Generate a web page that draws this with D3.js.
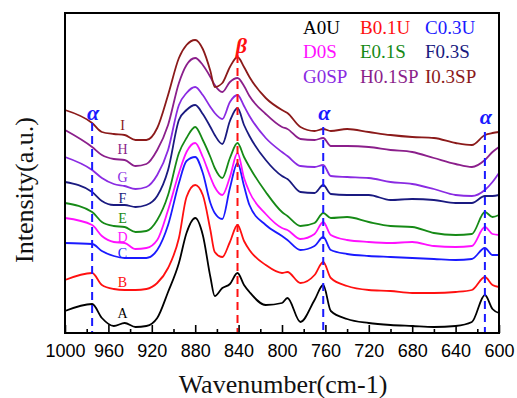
<!DOCTYPE html>
<html>
<head>
<meta charset="utf-8">
<script src="https://cdn.jsdelivr.net/npm/d3@7"></script>
<style>
  body { margin: 0; background: #fff; }
  svg { display: block; }
</style>
</head>
<body>
<div id="chart"></div>
<script>
// Wavenumber grid (cm-1) shared by all spectra
var wavenumbers = [1000, 975, 966, 955, 945, 935, 925, 915, 905, 895, 888, 880, 873, 866, 862, 855, 848, 841, 835, 830,
  815, 800, 795, 783, 770, 762, 755, 740, 720, 700, 680, 660, 640, 625, 613, 606, 600];

// Offset intensities (a.u.)
var seriesA = [22, 29, 15, 7, 10, 6, 7, 15, 41, 70, 100, 115, 98, 56, 37, 45, 49, 60, 48, 41, 28, 30, 35, 11, 33, 48, 22, 14, 10, 8, 7, 6, 7, 11, 38, 24, 20];
var seriesB = [53, 60, 48, 44, 43, 43, 44, 50, 65, 95, 136, 148, 138, 103, 81, 76, 91, 108, 92, 83, 68, 60, 61, 50, 58, 71, 55, 47, 43, 42, 40, 40, 41, 43, 56, 48, 46];
var seriesC = [90, 89, 82, 77, 75, 75, 75, 83, 108, 150, 172, 176, 160, 130, 120, 114, 145, 170, 147, 128, 108, 97, 93, 83, 87, 96, 83, 79, 77, 76, 75, 74, 73, 74, 85, 78, 78];
var seriesD = [115, 108, 97, 91, 90, 84, 85, 93, 123, 160, 181, 190, 176, 156, 146, 138, 156, 180, 155, 141, 119, 105, 103, 94, 99, 111, 98, 93, 91, 90, 91, 87, 86, 87, 106, 99, 98];
var seriesE = [130, 121, 111, 107, 106, 101, 102, 113, 138, 180, 195, 206, 193, 176, 165, 155, 175, 190, 176, 166, 141, 121, 117, 107, 110, 120, 115, 116, 111, 107, 106, 100, 98, 99, 121, 116, 118];
var seriesF = [151, 141, 132, 128, 128, 126, 128, 137, 163, 213, 223, 228, 219, 206, 198, 189, 212, 225, 208, 197, 173, 157, 154, 141, 140, 148, 139, 138, 138, 133, 134, 133, 130, 130, 137, 137, 138];
var seriesG = [176, 163, 155, 149, 147, 144, 146, 158, 183, 228, 240, 246, 238, 226, 220, 214, 231, 238, 227, 217, 195, 181, 177, 167, 166, 168, 157, 156, 155, 151, 149, 144, 138, 137, 143, 151, 160];
var seriesH = [203, 186, 178, 174, 173, 167, 169, 183, 208, 250, 268, 275, 268, 256, 248, 241, 251, 255, 247, 237, 219, 206, 204, 194, 193, 195, 187, 187, 186, 183, 181, 175, 169, 166, 173, 181, 186];
var seriesI = [223, 210, 201, 199, 198, 193, 193, 205, 238, 275, 288, 293, 284, 262, 246, 250, 266, 276, 266, 256, 235, 223, 220, 206, 202, 204, 202, 204, 201, 198, 196, 195, 190, 188, 198, 200, 201];

var letters = ["A", "B", "C", "D", "E", "F", "G", "H", "I"];
var sampleNames = ["A0U", "B0.1U", "C0.3U", "D0S", "E0.1S", "F0.3S", "G0SP", "H0.1SP", "I0.3SP"];
var colors = ["#000000", "#ff1010", "#1a1aff", "#ff10ff", "#168a16", "#1a1a80", "#8a2be2", "#8b1f8b", "#8b1a1a"];
var letterY = [20, 51, 80, 96, 115, 135, 156, 184, 208];
var majorTicks = [1000, 960, 920, 880, 840, 800, 760, 720, 680, 640, 600];
var minorTicks = [980, 940, 900, 860, 820, 780, 740, 700, 660, 620];

// Marker lines
var alphaBands = [975, 762, 613];
var alphaTop = [210, 206, 201];
var alphaLabelY = [220, 220, 216];
var betaBand = 841;

var series = [seriesA, seriesB, seriesC, seriesD, seriesE, seriesF, seriesG, seriesH, seriesI];

// Define dimensions
var svgWidth = 517;
var svgHeight = 398;
var margin = { top: 13, right: 18, bottom: 65, left: 65 };
var chartWidth = svgWidth - margin.left - margin.right;
var chartHeight = svgHeight - margin.top - margin.bottom;

var svg = d3.select("#chart")
  .append("svg")
  .attr("width", svgWidth)
  .attr("height", svgHeight);

var chartGroup = svg.append("g").attr("transform", `translate(${margin.left}, ${margin.top})`);

var xScale = d3.scaleLinear().domain([1000, 600]).range([0, chartWidth]);
var yScale = d3.scaleLinear().domain([0, 320]).range([chartHeight, 0]);

var line = d3.line()
  .x((d, i) => xScale(wavenumbers[i]))
  .y(d => yScale(d))
  .curve(d3.curveMonotoneX);

// Spectra
chartGroup.selectAll(".spectrum")
  .data(series)
  .enter()
  .append("path")
  .attr("class", "spectrum")
  .attr("d", line)
  .attr("fill", "none")
  .attr("stroke", (d, i) => colors[i])
  .attr("stroke-width", 1.8);

// Curve letters
chartGroup.selectAll(".letter")
  .data(letters)
  .enter()
  .append("text")
  .attr("x", xScale(947))
  .attr("y", (d, i) => yScale(letterY[i]))
  .attr("dy", "0.35em")
  .attr("text-anchor", "middle")
  .attr("font-family", "'Liberation Serif', 'Times New Roman', serif")
  .attr("font-size", 14)
  .attr("fill", (d, i) => colors[i])
  .text(d => d);

// Dashed marker lines
chartGroup.selectAll(".alphaLine")
  .data(alphaBands)
  .enter()
  .append("line")
  .attr("x1", d => xScale(d))
  .attr("x2", d => xScale(d))
  .attr("y1", (d, i) => yScale(alphaTop[i]))
  .attr("y2", yScale(0))
  .attr("stroke", "#1a1aff")
  .attr("stroke-width", 2)
  .attr("stroke-dasharray", "8,5");

chartGroup.selectAll(".alphaText")
  .data(alphaBands)
  .enter()
  .append("text")
  .attr("x", d => xScale(d) + 1)
  .attr("y", (d, i) => yScale(alphaLabelY[i]))
  .attr("dy", "0.3em")
  .attr("text-anchor", "middle")
  .attr("font-family", "'Liberation Serif', 'Times New Roman', serif")
  .attr("font-style", "italic")
  .attr("font-weight", "bold")
  .attr("font-size", 22)
  .attr("fill", "#1a1aff")
  .text("\u03b1");

chartGroup.append("line")
  .attr("x1", xScale(betaBand))
  .attr("x2", xScale(betaBand))
  .attr("y1", yScale(278))
  .attr("y2", yScale(0))
  .attr("stroke", "#ff1010")
  .attr("stroke-width", 2)
  .attr("stroke-dasharray", "8,5");

chartGroup.append("text")
  .attr("x", xScale(betaBand) + 4)
  .attr("y", yScale(288))
  .attr("dy", "0.35em")
  .attr("text-anchor", "middle")
  .attr("font-family", "'Liberation Serif', 'Times New Roman', serif")
  .attr("font-style", "italic")
  .attr("font-weight", "bold")
  .attr("font-size", 22)
  .attr("fill", "#ff1010")
  .text("\u03b2");

// Axes
var bottomAxis = d3.axisBottom(xScale)
  .tickValues(majorTicks)
  .tickFormat(d3.format("d"))
  .tickSizeInner(-8)
  .tickSizeOuter(0)
  .tickPadding(11);
var minorAxis = d3.axisBottom(xScale)
  .tickValues(minorTicks)
  .tickSizeInner(-4)
  .tickSizeOuter(0)
  .tickFormat("");

var xAxis = chartGroup.append("g")
  .attr("transform", `translate(0, ${chartHeight})`)
  .call(bottomAxis);
chartGroup.append("g")
  .attr("transform", `translate(0, ${chartHeight})`)
  .call(minorAxis)
  .select(".domain").remove();

xAxis.selectAll("text")
  .attr("font-family", "'Liberation Sans', Arial, sans-serif")
  .attr("font-size", 18)
  .attr("fill", "#000");
chartGroup.selectAll(".tick line").attr("stroke", "#000").attr("stroke-width", 1.6);

// Frame
chartGroup.append("rect")
  .attr("x", 0)
  .attr("y", 0)
  .attr("width", chartWidth)
  .attr("height", chartHeight)
  .attr("fill", "none")
  .attr("stroke", "#000")
  .attr("stroke-width", 2);

// Legend
var legendX = [303, 360, 425];
var legendY = [34, 58, 83];
svg.selectAll(".legend")
  .data(sampleNames)
  .enter()
  .append("text")
  .attr("x", (d, i) => legendX[i % 3])
  .attr("y", (d, i) => legendY[Math.floor(i / 3)])
  .attr("font-family", "'Liberation Serif', 'Times New Roman', serif")
  .attr("font-size", 19)
  .attr("fill", (d, i) => colors[i])
  .text(d => d);

// Axis titles
svg.append("text")
  .attr("x", 283)
  .attr("y", 393)
  .attr("text-anchor", "middle")
  .attr("font-family", "'Liberation Serif', 'Times New Roman', serif")
  .attr("font-size", 26)
  .attr("fill", "#111")
  .text("Wavenumber(cm-1)");

svg.append("text")
  .attr("transform", "translate(33, 190) rotate(-90)")
  .attr("text-anchor", "middle")
  .attr("font-family", "'Liberation Serif', 'Times New Roman', serif")
  .attr("font-size", 26)
  .attr("fill", "#111")
  .text("Intensity(a.u.)");
</script>
</body>
</html>
